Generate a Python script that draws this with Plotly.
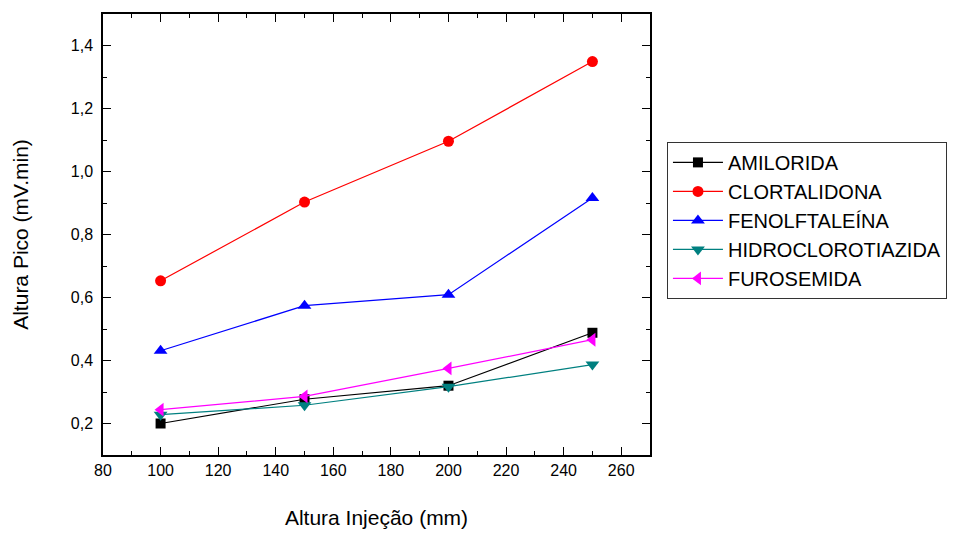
import plotly.graph_objects as go

x_vals = [100, 150, 200, 250]
amilorida = [0.200, 0.277, 0.320, 0.488]
clortalidona = [0.653, 0.903, 1.096, 1.349]
fenolftaleina = [0.431, 0.574, 0.609, 0.916]
hidroclorotiazida = [0.228, 0.258, 0.317, 0.387]
furosemida = [0.244, 0.286, 0.375, 0.466]

series = [
    ("AMILORIDA", amilorida, "#000000", "square", 10),
    ("CLORTALIDONA", clortalidona, "#ff0000", "circle", 11),
    ("FENOLFTALEÍNA", fenolftaleina, "#0000ff", "triangle-up", 12),
    ("HIDROCLOROTIAZIDA", hidroclorotiazida, "#008080", "triangle-down", 12),
    ("FUROSEMIDA", furosemida, "#ff00ff", "triangle-left", 12),
]

FONT = "Liberation Sans, Arial"

fig = go.Figure()
for name, ys, color, sym, size in series:
    fig.add_trace(go.Scatter(
        x=x_vals, y=ys, name=name, mode="lines+markers",
        line=dict(color=color, width=1.2),
        marker=dict(symbol=sym, size=size, color=color, line=dict(width=0)),
    ))

axis_common = dict(
    showgrid=False, zeroline=False, showline=True, linecolor="black", linewidth=1.5,
    mirror="ticks", ticks="inside", ticklen=8, tickwidth=1.2, tickcolor="black",
    tickfont=dict(family=FONT, size=16, color="black"), automargin=False,
)

fig.update_xaxes(
    range=[80, 270], tickvals=[80, 100, 120, 140, 160, 180, 200, 220, 240, 260],
    minor=dict(dtick=10, tick0=80, ticks="inside", ticklen=4, tickcolor="black", tickwidth=1.2),
    title=dict(text="Altura Injeção (mm)", font=dict(family=FONT, size=21, color="black"), standoff=32),
    ticklabelstandoff=0,
    **axis_common,
)
fig.update_yaxes(
    range=[0.1, 1.5], tickvals=[0.2, 0.4, 0.6, 0.8, 1.0, 1.2, 1.4], tickformat=".1f",
    minor=dict(dtick=0.1, tick0=0.1, ticks="inside", ticklen=4, tickcolor="black", tickwidth=1.2),
    title=dict(text="Altura Pico (mV.min)", font=dict(family=FONT, size=21, color="black"), standoff=36),
    ticklabelstandoff=5,
    **axis_common,
)

fig.update_layout(
    width=958, height=536,
    separators=",.",
    plot_bgcolor="white", paper_bgcolor="white",
    margin=dict(l=103, r=308, t=14, b=81, autoexpand=False),
    showlegend=True,
    legend=dict(
        x=1.031, y=0.71, xanchor="left", yanchor="top",
        bordercolor="#333333", borderwidth=1, bgcolor="white",
        font=dict(family=FONT, size=20, color="black"),
        tracegroupgap=0, itemsizing="trace", itemwidth=50,
    ),
)

fig.write_html("out.html")
